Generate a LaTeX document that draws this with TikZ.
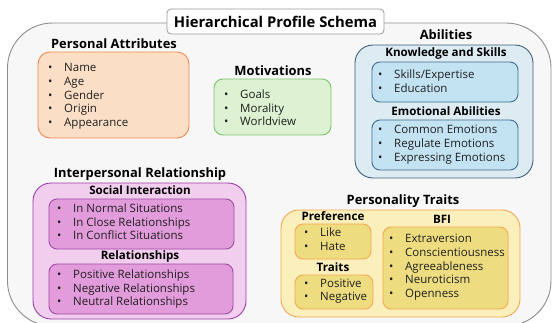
\documentclass[tikz,border=0pt]{standalone}
\usepackage{fontspec}
\setmainfont{Open Sans}
\begin{document}
\begin{tikzpicture}[x=1pt,y=-1pt,
  frame/.style={draw=black!45,fill=black!3,line width=0.9pt,rounded corners=45pt},
  titlebox/.style={draw=black!40,fill=white,line width=0.8pt,rounded corners=4pt},
  hdr/.style={font=\fontsize{14.8}{17}\selectfont\bfseries,anchor=center,inner sep=0pt},
  sec/.style={font=\fontsize{12.9}{15}\selectfont\bfseries,anchor=mid,inner sep=0pt},
  sub/.style={font=\fontsize{11.6}{13}\selectfont\bfseries,anchor=mid,inner sep=0pt},
  itm/.style={font=\fontsize{11.5}{13}\selectfont,anchor=mid west,inner sep=0pt,text=black!88},
  pabox/.style={draw=paB,fill=paF,line width=0.9pt,rounded corners=12pt},
  mobox/.style={draw=moB,fill=moF,line width=0.9pt,rounded corners=9pt},
  about/.style={draw=abB,fill=abF,line width=0.9pt,rounded corners=18pt},
  abin/.style={draw=abIB,fill=abIF,line width=0.9pt,rounded corners=8pt},
  irout/.style={draw=irB,fill=irF,line width=0.9pt,rounded corners=18pt},
  irin/.style={draw=irIB,fill=irIF,line width=0.9pt,rounded corners=8pt},
  ptout/.style={draw=ptB,fill=ptF,line width=0.9pt,rounded corners=18pt},
  ptin/.style={draw=ptB,fill=ptIF,line width=0.9pt,rounded corners=8pt}]
\definecolor{paB}{HTML}{EE8A4E}\definecolor{paF}{HTML}{FADFC6}
\definecolor{moB}{HTML}{7CC46A}\definecolor{moF}{HTML}{DCF2D2}
\definecolor{abB}{HTML}{3E5F78}\definecolor{abF}{HTML}{DDEBF3}
\definecolor{abIB}{HTML}{3E6C8C}\definecolor{abIF}{HTML}{C3E3F3}
\definecolor{irB}{HTML}{9A3DAA}\definecolor{irF}{HTML}{F1CDEE}
\definecolor{irIB}{HTML}{A04AA6}\definecolor{irIF}{HTML}{E39CDB}
\definecolor{ptB}{HTML}{F5A650}\definecolor{ptF}{HTML}{FBEFBC}
\definecolor{ptIF}{HTML}{EEDD80}
\newcommand{\blt}[1]{\makebox[16pt][l]{\textbullet}#1}
\useasboundingbox (0,0) rectangle (552,322);
\begin{scope}
\clip (0,0) rectangle (552,322);
\draw[frame] (7.5,23) rectangle (551,326);
\end{scope}
\draw[titlebox] (167,9) rectangle (384,34);
\node[hdr] (title) at (275.5,21.5) {Hierarchical Profile Schema};
% Personal Attributes
\node[sec] (paT) at (114,46) {Personal Attributes};
\draw[pabox] (38,52) rectangle (189,138);
\foreach \t [count=\i] in {Name,Age,Gender,Origin,Appearance}
  \node[itm] (pa\i) at (48,{69+13.75*(\i-1)}) {\blt{\t}};
% Motivations
\node[sec] (moT) at (273,73) {Motivations};
\draw[mobox] (214,79) rectangle (331,135);
\foreach \t [count=\i] in {Goals,Morality,Worldview}
  \node[itm] (mo\i) at (224,{96+13.6*(\i-1)}) {\blt{\t}};
% Abilities
\node[sec] (abT) at (446,37) {Abilities};
\draw[about] (355,45) rectangle (533,178);
\node[sub] (ksT) at (446,54) {Knowledge and Skills};
\draw[abin] (372,62) rectangle (518,102);
\foreach \t [count=\i] in {Skills/Expertise,Education}
  \node[itm] (ks\i) at (378,{76+13.8*(\i-1)}) {\blt{\t}};
\node[sub] (eaT) at (446,113) {Emotional Abilities};
\draw[abin] (372,120) rectangle (518,170);
\foreach \t [count=\i] in {Common Emotions,Regulate Emotions,Expressing Emotions}
  \node[itm] (ea\i) at (378,{131+13.9*(\i-1)}) {\blt{\t}};
% Interpersonal Relationship
\node[sec] (irT) at (140,175) {Interpersonal Relationship};
\draw[irout] (33,183) rectangle (246,319);
\node[sub] (siT) at (140,192) {Social Interaction};
\draw[irin] (49,199) rectangle (234,249);
\foreach \t [count=\i] in {In Normal Situations,In Close Relationships,In Conflict Situations}
  \node[itm] (si\i) at (57,{210+13.5*(\i-1)}) {\blt{\t}};
\node[sub] (reT) at (140,257) {Relationships};
\draw[irin] (49,264) rectangle (233,314);
\foreach \t [count=\i] in {Positive Relationships,Negative Relationships,Neutral Relationships}
  \node[itm] (re\i) at (57,{276+13.5*(\i-1)}) {\blt{\t}};
% Personality Traits
\node[sec] (ptT) at (403,202) {Personality Traits};
\draw[ptout] (281,210) rectangle (520,317);
\node[sub] (prT) at (333,218) {Preference};
\draw[ptin] (295,224) rectangle (371,259);
\foreach \t [count=\i] in {Like,Hate}
  \node[itm] (pr\i) at (304,{234+14*(\i-1)}) {\blt{\t}};
\node[sub] (trT) at (333,269) {Traits};
\draw[ptin] (295,275) rectangle (373,309);
\foreach \t [count=\i] in {Positive,Negative}
  \node[itm] (tr\i) at (304,{285+13*(\i-1)}) {\blt{\t}};
\node[sub] (bfT) at (442,221) {BFI};
\draw[ptin] (383,227) rectangle (508,309);
\foreach \t [count=\i] in {Extraversion,Conscientiousness,Agreeableness,Neuroticism,Openness}
  \node[itm] (bf\i) at (389,{240+13.75*(\i-1)}) {\blt{\t}};
\end{tikzpicture}
\end{document}
